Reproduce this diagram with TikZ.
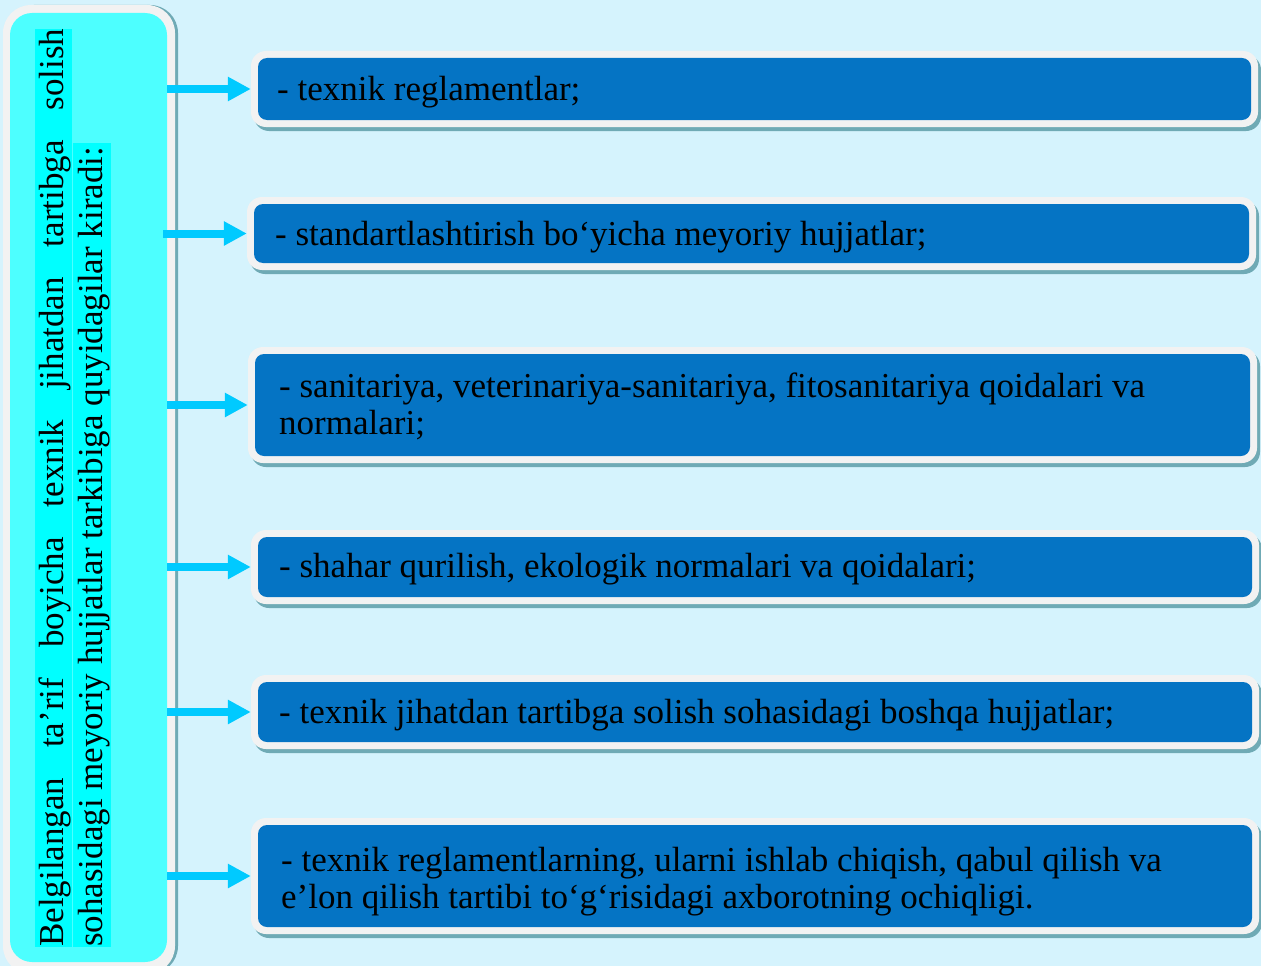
\documentclass[tikz,border=0pt]{standalone}
\usepackage{fontspec}
\setmainfont{Liberation Serif}
\usetikzlibrary{arrows.meta,fit,shadows}
\definecolor{bgc}{RGB}{213,243,253}
\definecolor{leftc}{RGB}{77,255,255}
\definecolor{hlc}{RGB}{0,255,255}
\definecolor{borderc}{RGB}{242,242,242}
\definecolor{shadowc}{RGB}{111,170,181}
\definecolor{bluec}{RGB}{5,116,196}
\definecolor{arrowc}{RGB}{0,202,255}
\begin{document}
\begin{tikzpicture}[x=1pt,y=-1pt,
  outerbox/.style={fill=borderc, rounded corners=15pt, inner sep=0pt,
    drop shadow={shadow xshift=3pt, shadow yshift=-4pt, fill=shadowc, opacity=1}},
  innerbox/.style={fill=bluec, rounded corners=9pt, inner sep=0pt},
  boxtext/.style={inner sep=0pt, align=left, font=\fontsize{35}{37}\selectfont},
  sidetext/.style={rotate=90, anchor=base west, inner sep=0pt, font=\fontsize{35}{37}\selectfont},
  conn/.style={draw=arrowc, line width=8pt, -{Triangle[length=23pt,width=23pt]}}]
\useasboundingbox (0,0) rectangle (1261,966);
\fill[bgc] (0,0) rectangle (1261,966);

% left box
\node[fit={(3,5) (175,974)}, fill=borderc, rounded corners=28pt, inner sep=0pt,
  drop shadow={shadow xshift=3pt, shadow yshift=0pt, fill=shadowc, opacity=1}] (Lout) {};
\node[fit={(10,13) (167,962)}, fill=leftc, rounded corners=22pt, inner sep=0pt] (L) {};
\fill[hlc] (35,29) rectangle (72,947);
\fill[hlc] (73,143) rectangle (111,947);
\node[sidetext] (s1) at (63,947) {\makebox[918pt][s]{Belgilangan ta’rif boyicha texnik jihatdan tartibga solish}};
\node[sidetext] (s2) at (102,947) {sohasidagi meyoriy hujjatlar tarkibiga quyidagilar kiradi:};

% right boxes
\node[outerbox, fit={(251,51) (1258,127)}] (b1) {};
\node[innerbox, fit={(258,58) (1251,120)}] (i1) {};
\node[outerbox, fit={(247,197) (1256,270)}] (b2) {};
\node[innerbox, fit={(254,204) (1249,263)}] (i2) {};
\node[outerbox, fit={(248,347) (1257,463)}] (b3) {};
\node[innerbox, fit={(255,354) (1250,456)}] (i3) {};
\node[outerbox, fit={(251,530) (1259,604)}] (b4) {};
\node[innerbox, fit={(258,537) (1252,597)}] (i4) {};
\node[outerbox, fit={(251,675) (1259,749)}] (b5) {};
\node[innerbox, fit={(258,682) (1252,742)}] (i5) {};
\node[outerbox, fit={(251,818) (1259,934)}] (b6) {};
\node[innerbox, fit={(258,825) (1252,927)}] (i6) {};

\node[boxtext, anchor=base west] (t1) at (277,100) {- texnik reglamentlar;};
\node[boxtext, anchor=base west] (t2) at (275,245) {- standartlashtirish bo‘yicha meyoriy hujjatlar;};
\node[boxtext, anchor=north west] (t3) at (279,373) {- sanitariya, veterinariya-sanitariya, fitosanitariya qoidalari va\\normalari;};
\node[boxtext, anchor=base west] (t4) at (279,577) {- shahar qurilish, ekologik normalari va qoidalari;};
\node[boxtext, anchor=base west] (t5) at (279,723) {- texnik jihatdan tartibga solish sohasidagi boshqa hujjatlar;};
\node[boxtext, anchor=north west] (t6) at (281,847) {- texnik reglamentlarning, ularni ishlab chiqish, qabul qilish va\\e’lon qilish tartibi to‘g‘risidagi axborotning ochiqligi.};

% connectors
\draw[conn] (L.east |- b1.west) -- (b1.west);
\draw[conn] ([xshift=-4pt]L.east |- b2.west) -- (b2.west);
\draw[conn] (L.east |- b3.west) -- (b3.west);
\draw[conn] (L.east |- b4.west) -- (b4.west);
\draw[conn] (L.east |- b5.west) -- (b5.west);
\draw[conn] (L.east |- b6.west) -- (b6.west);
\end{tikzpicture}
\end{document}
